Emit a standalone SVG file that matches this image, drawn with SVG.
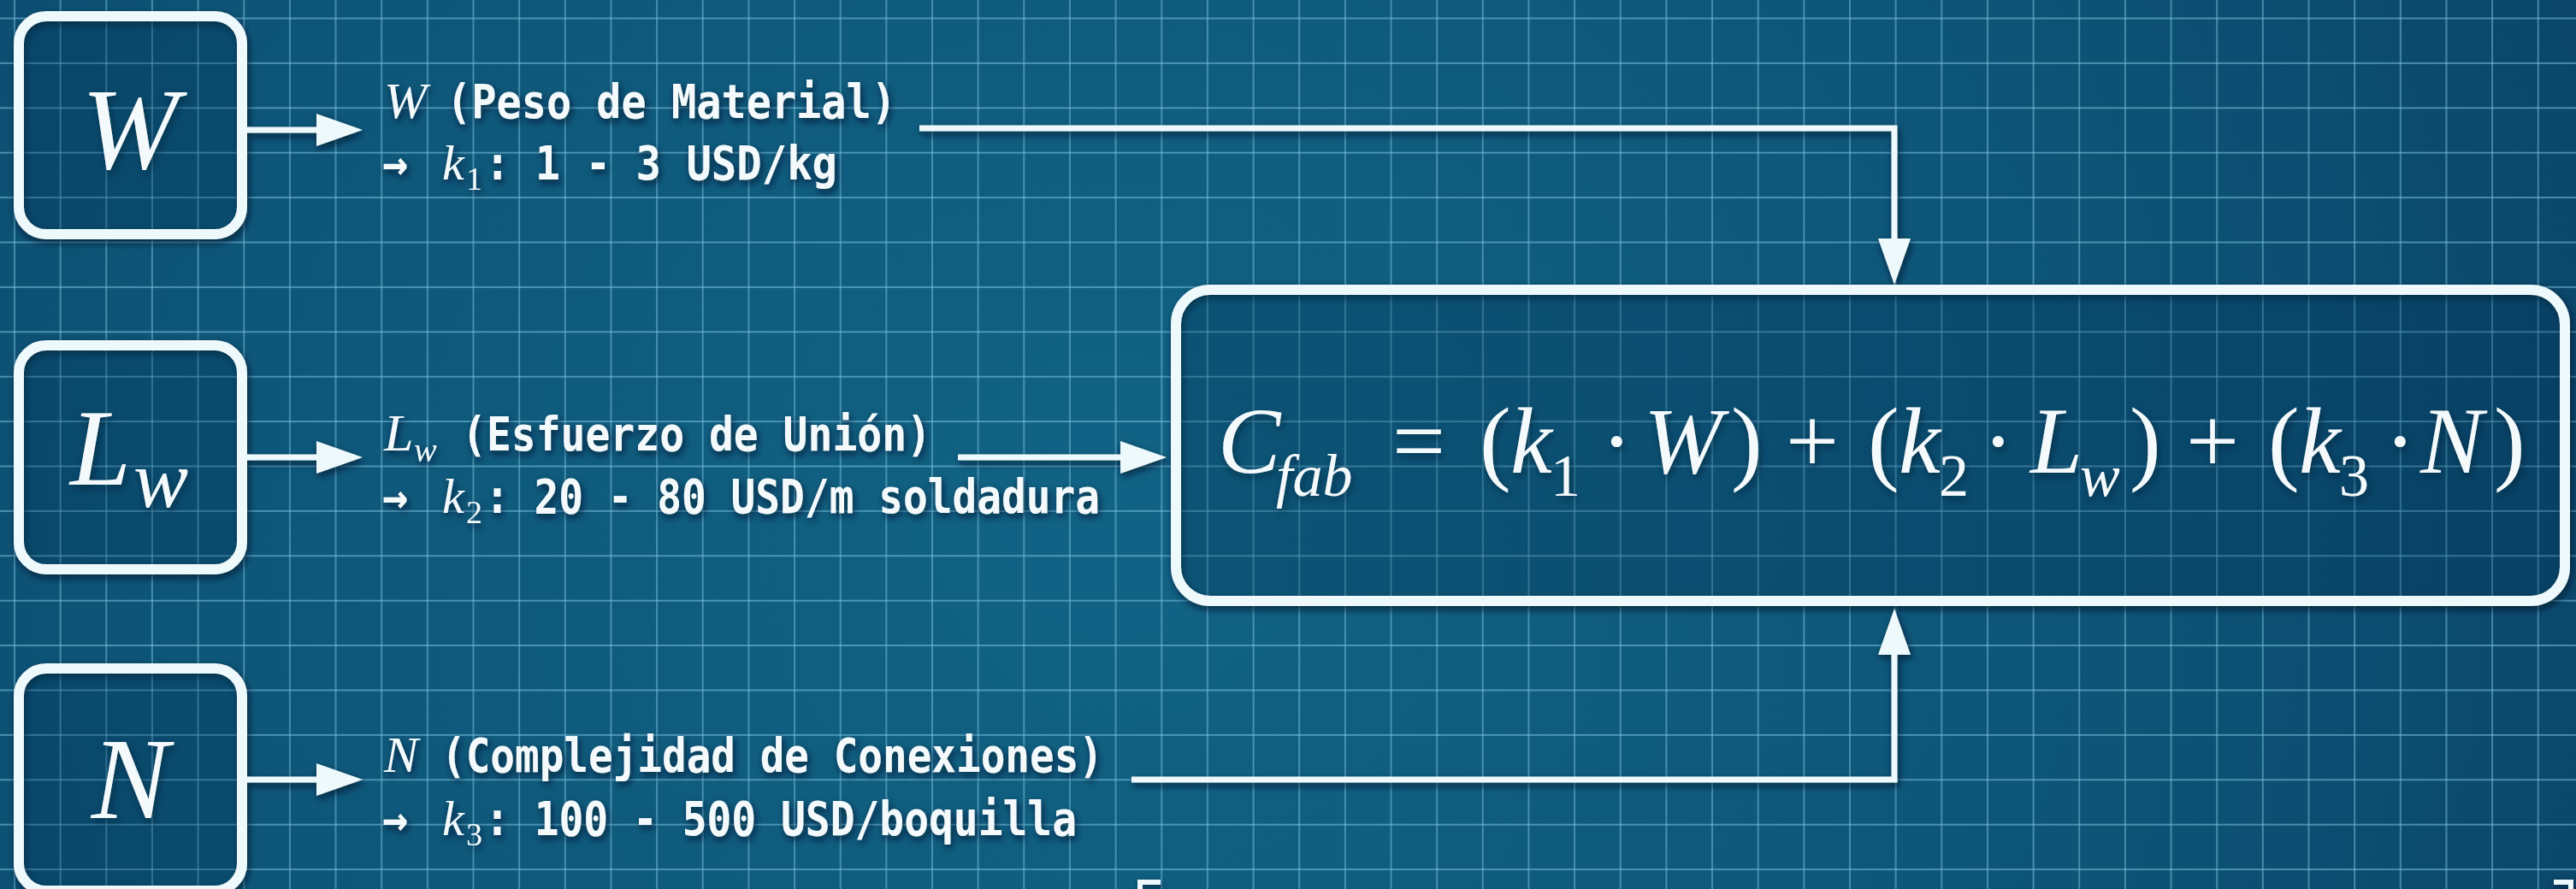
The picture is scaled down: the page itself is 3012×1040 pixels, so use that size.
<svg xmlns="http://www.w3.org/2000/svg" width="3012" height="1040" viewBox="0 0 3012 1040">
  <defs>
    <radialGradient id="bg" cx="1300" cy="620" r="1900" gradientUnits="userSpaceOnUse">
      <stop offset="0" stop-color="#116385"/>
      <stop offset="0.6" stop-color="#0d5578"/>
      <stop offset="1" stop-color="#0a4468"/>
    </radialGradient>
    <pattern id="grid" x="16" y="20.5" width="53.65" height="52.4" patternUnits="userSpaceOnUse">
      <path d="M1 0V52.4" stroke="#7cc3df" stroke-opacity="0.5" stroke-width="2" fill="none"/>
      <path d="M0 1H53.65" stroke="#7cc3df" stroke-opacity="0.55" stroke-width="2.2" fill="none"/>
    </pattern>
    <filter id="shadow" x="-10%" y="-10%" width="120%" height="130%">
      <feDropShadow dx="2" dy="4" stdDeviation="4" flood-color="#001624" flood-opacity="0.7"/>
    </filter>
    <marker id="arrow" markerUnits="userSpaceOnUse" markerWidth="56" markerHeight="42" refX="44" refY="20" orient="auto" overflow="visible">
      <path d="M0,1 L54,20 L0,39 z" fill="#eef9fc"/>
    </marker>
    <style>
      .box { fill: #0a3f5e; fill-opacity: 0.18; stroke: #eef9fc; stroke-width: 12; }
      .conn { fill: none; stroke: #eef9fc; stroke-width: 7; stroke-linejoin: miter; }
      .var { font-family: "Liberation Serif", "DejaVu Serif", serif; font-style: italic; fill: #f4fafc; }
      .num { font-family: "Liberation Serif", "DejaVu Serif", serif; fill: #f4fafc; }
      .mono { font-family: "DejaVu Sans Mono", "Liberation Mono", monospace; font-weight: bold; font-size: 56px; fill: #f4fafc; }
      .mark { fill: none; stroke: #eef9fc; stroke-width: 6; }
    </style>
  </defs>

  <rect width="3012" height="1040" fill="url(#bg)"/>
  <rect width="3012" height="1040" fill="url(#grid)"/>

  <g filter="url(#shadow)">
    <g id="node-W">
      <rect class="box" x="22" y="19" width="261" height="255" rx="32"/>
      <text class="var" x="152" y="197" font-size="136" text-anchor="middle">W</text>
    </g>
    <g id="node-Lw">
      <rect class="box" x="22" y="404" width="261" height="262" rx="32"/>
      <text class="var" x="82" y="567" font-size="128">L</text>
      <text class="var" x="156" y="593" font-size="96">w</text>
    </g>
    <g id="node-N">
      <rect class="box" x="22" y="782" width="261" height="260" rx="32"/>
      <text class="var" x="152" y="957" font-size="136" text-anchor="middle">N</text>
    </g>

    <g id="label-W">
      <text class="var" x="449" y="138" font-size="60">W</text>
      <text class="mono" x="522" y="138" textLength="526" lengthAdjust="spacingAndGlyphs">(Peso de Material)</text>
      <text class="mono" x="447" y="210" textLength="30" lengthAdjust="spacingAndGlyphs">→</text>
      <text class="var" x="517" y="210" font-size="58">k</text>
      <text class="num" x="545" y="222" font-size="38">1</text>
      <text class="mono" x="567" y="210" textLength="412" lengthAdjust="spacingAndGlyphs">: 1 - 3 USD/kg</text>
    </g>
    <g id="label-Lw">
      <text class="var" x="449" y="527" font-size="62">L</text>
      <text class="var" x="484" y="540" font-size="40">w</text>
      <text class="mono" x="540" y="527" textLength="549" lengthAdjust="spacingAndGlyphs">(Esfuerzo de Unión)</text>
      <text class="mono" x="447" y="600" textLength="30" lengthAdjust="spacingAndGlyphs">→</text>
      <text class="var" x="517" y="600" font-size="58">k</text>
      <text class="num" x="545" y="612" font-size="38">2</text>
      <text class="mono" x="567" y="600" textLength="719" lengthAdjust="spacingAndGlyphs">: 20 - 80 USD/m soldadura</text>
    </g>
    <g id="label-N">
      <text class="var" x="449" y="903" font-size="60">N</text>
      <text class="mono" x="516" y="903" textLength="774" lengthAdjust="spacingAndGlyphs">(Complejidad de Conexiones)</text>
      <text class="mono" x="447" y="977" textLength="30" lengthAdjust="spacingAndGlyphs">→</text>
      <text class="var" x="517" y="977" font-size="58">k</text>
      <text class="num" x="545" y="989" font-size="38">3</text>
      <text class="mono" x="567" y="977" textLength="692" lengthAdjust="spacingAndGlyphs">: 100 - 500 USD/boquilla</text>
    </g>

    <g id="node-formula">
      <rect class="box" x="1375" y="339" width="1624" height="364" rx="40"/>
      <text font-size="110" y="553">
        <tspan class="var" x="1424">C</tspan>
        <tspan class="var" x="1492" y="580" font-size="70">fab</tspan>
        <tspan class="num" x="1628" y="553">=</tspan>
        <tspan class="num" x="1730">(</tspan>
        <tspan class="var" x="1766">k</tspan>
        <tspan class="num" x="1813" y="580" font-size="70">1</tspan>
        <tspan class="num" x="1872" y="553">·</tspan>
        <tspan class="var" x="1922">W</tspan>
        <tspan class="num" x="2024">)</tspan>
        <tspan class="num" x="2088">+</tspan>
        <tspan class="num" x="2184">(</tspan>
        <tspan class="var" x="2220">k</tspan>
        <tspan class="num" x="2267" y="580" font-size="70">2</tspan>
        <tspan class="num" x="2318" y="553">·</tspan>
        <tspan class="var" x="2374">L</tspan>
        <tspan class="var" x="2432" y="580" font-size="70">w</tspan>
        <tspan class="num" x="2490" y="553">)</tspan>
        <tspan class="num" x="2556">+</tspan>
        <tspan class="num" x="2652">(</tspan>
        <tspan class="var" x="2688">k</tspan>
        <tspan class="num" x="2735" y="580" font-size="70">3</tspan>
        <tspan class="num" x="2788" y="553">·</tspan>
        <tspan class="var" x="2830">N</tspan>
        <tspan class="num" x="2916">)</tspan>
      </text>
    </g>

    <g id="connectors">
      <path class="conn" d="M289,152 H414" marker-end="url(#arrow)"/>
      <path class="conn" d="M289,535 H414" marker-end="url(#arrow)"/>
      <path class="conn" d="M289,912 H414" marker-end="url(#arrow)"/>
      <path class="conn" d="M1075,150 H2215 V323" marker-end="url(#arrow)"/>
      <path class="conn" d="M1120,535 H1354" marker-end="url(#arrow)"/>
      <path class="conn" d="M1323,912 H2215 V722" marker-end="url(#arrow)"/>
    </g>

    <g id="corner-marks">
      <path class="mark" d="M1333,1042 V1032 H1357"/>
      <path class="mark" d="M2986,1032 H3006 V1042"/>
    </g>
  </g>
</svg>
